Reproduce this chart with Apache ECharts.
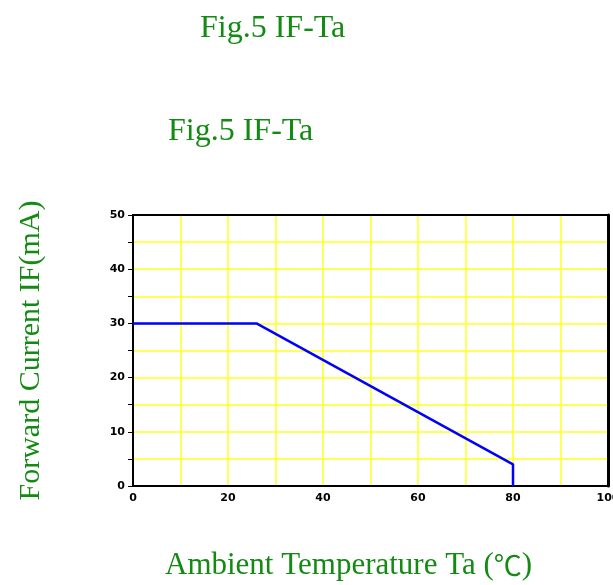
<!DOCTYPE html>
<html><head><meta charset="utf-8">
<script src="https://cdn.jsdelivr.net/npm/echarts@6/dist/echarts.min.js"></script>
<style>html,body{margin:0;padding:0;background:#fff}#c{width:613px;height:585px}</style>
</head><body><div id="c"></div>
<script>
const titleText = 'Fig.5 IF-Ta';
const xName = 'Ambient Temperature Ta (℃)';
const yName = 'Forward Current IF(mA)';
const tempTa = [0, 26, 80, 80];
const currentIF = [30, 30, 4, 0];
const green = '#138a13';
const grid = '#ffff22';
const chart = echarts.init(document.getElementById('c'));
const frameAxis = {
  axisTick: {show: false}, axisLabel: {show: false}, splitLine: {show: false}
};
chart.setOption({
  animation: false,
  backgroundColor: '#fff',
  title: [
    {text: titleText, left: 195, top: 8, textStyle: {fontFamily: 'Liberation Serif', fontWeight: 'normal', fontSize: 32, color: green}},
    {text: titleText, left: 163, top: 111, textStyle: {fontFamily: 'Liberation Serif', fontWeight: 'normal', fontSize: 32, color: green}},
    {text: '{a|Ambient Temperature Ta (}{b|℃}{a|)}', left: 160, top: 545,
     textStyle: {fontWeight: 'normal', rich: {
       a: {fontFamily: 'Liberation Serif', fontWeight: 'normal', fontSize: 31, color: green},
       b: {fontFamily: 'Noto Sans CJK SC', fontWeight: 'normal', fontSize: 28, color: green}
     }}}
  ],
  grid: {left: 133, right: 5, top: 215, bottom: 99, show: false, outerBoundsMode: 'none', containLabel: false},
  xAxis: [{
    type: 'value', min: 0, max: 100, interval: 20,
    axisLine: {lineStyle: {color: '#000', width: 2}},
    axisTick: {show: false},
    axisLabel: {fontFamily: 'DejaVu Sans', fontWeight: 'bold', fontSize: 11, color: '#000', margin: 7},
    splitLine: {show: true, lineStyle: {color: grid, width: 1.5}},
    minorTick: {show: false, splitNumber: 2},
    minorSplitLine: {show: true, lineStyle: {color: grid, width: 1.5}}
  }, Object.assign({type: 'value', min: 0, max: 100, position: 'top',
    axisLine: {show: true, onZero: false, lineStyle: {color: '#000', width: 2}}}, frameAxis)],
  yAxis: [{
    type: 'value', min: 0, max: 50, interval: 10,
    name: yName, nameLocation: 'middle', nameGap: 87, nameRotate: 90,
    nameTextStyle: {fontFamily: 'Liberation Serif', fontSize: 30, color: green},
    axisLine: {lineStyle: {color: '#000', width: 2}},
    axisTick: {show: true, length: 5, lineStyle: {color: '#000'}},
    minorTick: {show: true, splitNumber: 2, length: 5, lineStyle: {color: '#000'}},
    axisLabel: {fontFamily: 'DejaVu Sans', fontWeight: 'bold', fontSize: 11, color: '#000', margin: 8},
    splitLine: {show: true, lineStyle: {color: grid, width: 1.5}},
    minorSplitLine: {show: true, lineStyle: {color: grid, width: 1.5}}
  }, Object.assign({type: 'value', min: 0, max: 50, position: 'right',
    axisLine: {show: true, onZero: false, lineStyle: {color: '#000', width: 3}}}, frameAxis)],
  series: [{
    type: 'line', data: tempTa.map((t, i) => [t, currentIF[i]]),
    symbol: 'none', lineStyle: {color: '#0000ff', width: 2.5}
  }]
});
</script></body></html>
